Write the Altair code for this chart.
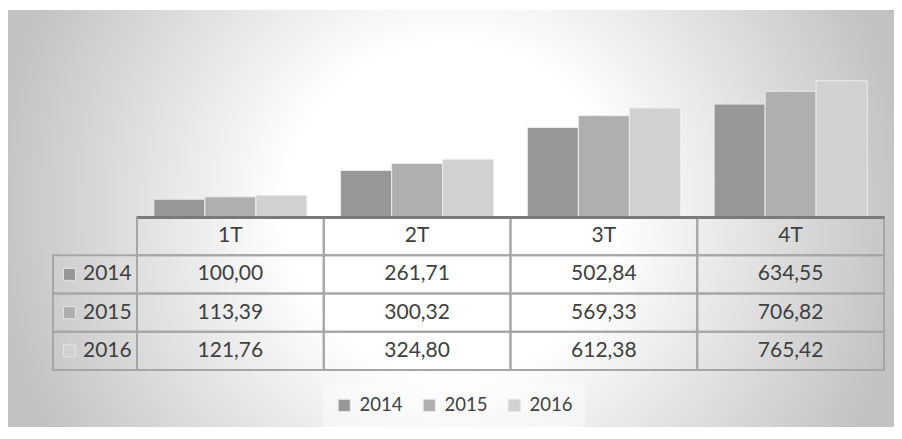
import altair as alt
import pandas as pd

quarters = ["1T", "2T", "3T", "4T"]
years = ["2014", "2015", "2016"]
v2014 = [100.00, 261.71, 502.84, 634.55]
v2015 = [113.39, 300.32, 569.33, 706.82]
v2016 = [121.76, 324.80, 612.38, 765.42]
colors = ["#979797", "#afafaf", "#d1d1d1"]
row_order = ["hdr"] + years

series = {"2014": v2014, "2015": v2015, "2016": v2016}
rows = []
for y in years:
    for q, v in zip(quarters, series[y]):
        rows.append({"quarter": q, "year": y, "row": y, "value": v,
                     "label": f"{v:.2f}".replace(".", ",")})
df = pd.DataFrame(rows)
hdr_df = pd.DataFrame({"quarter": quarters, "row": ["hdr"] * 4, "label": quarters})
cells_df = pd.concat([df[["quarter", "row"]], hdr_df[["quarter", "row"]]], ignore_index=True)
side_df = pd.DataFrame({"hc": ["h"] * 3, "row": years, "year": years})
bg_df = pd.DataFrame({"a": [0]})

FONT = "Lato"
TXT = "#404040"
GRID = "#a6a6a6"

qscale = alt.Scale(domain=quarters, range=[84, 831], paddingInner=0, paddingOuter=0)
hscale = alt.Scale(domain=["h"], range=[0, 84], paddingInner=0, paddingOuter=0)
sq_scale = alt.Scale(domain=["h"], range=[10, 23], paddingInner=0, paddingOuter=0)
st_scale = alt.Scale(domain=["h"], range=[20, 40], paddingInner=0, paddingOuter=0)
rscale = alt.Scale(domain=row_order, range=[0, 153], paddingInner=0, paddingOuter=0)
cscale = alt.Scale(domain=years, range=colors)

grad = alt.RadialGradient(
    gradient="radial", x1=0.5, y1=0.489, r1=0.187, x2=0.5, y2=0.489, r2=0.52,
    stops=[alt.GradientStop(offset=0, color="#ffffff"),
           alt.GradientStop(offset=1, color="#c2c2c2")],
)

bg = alt.Chart(bg_df).mark_rect(fill=grad).encode(
    x=alt.value(-45), x2=alt.value(841), y=alt.value(-207), y2=alt.value(210)
)

bars = alt.Chart(df).mark_bar(stroke="#ececec", strokeWidth=1).encode(
    x=alt.X("quarter:N", scale=qscale, axis=None),
    xOffset=alt.XOffset("year:N", scale=alt.Scale(domain=years, paddingInner=0, paddingOuter=0.33)),
    y=alt.Y("value:Q", scale=alt.Scale(domain=[0, 800], range=[0, -142.4], nice=False, zero=True), axis=None),
    color=alt.Color("year:N", scale=cscale, legend=alt.Legend(
        orient="none", legendX=270, legendY=167, direction="horizontal", title=None,
        symbolType="square", symbolSize=144, symbolStrokeWidth=1, symbolStrokeColor="#e3e3e3",
        labelFont=FONT, labelFontSize=18.5, labelColor=TXT, labelOffset=6,
        columnPadding=17, padding=12, fillColor="rgba(255,255,255,0.4)")),
)

cells = alt.Chart(cells_df).mark_rect(fill="transparent", stroke=GRID, strokeWidth=2).encode(
    x=alt.X("quarter:N", scale=qscale, axis=alt.Axis(
        orient="top", domain=True, domainColor="#7a7a7a", domainWidth=3,
        labels=False, ticks=False, grid=False, title=None)),
    y=alt.Y("row:N", scale=rscale, axis=None),
)

side_cells = alt.Chart(side_df).mark_rect(fill="transparent", stroke=GRID, strokeWidth=2).encode(
    x=alt.X("hc:N", scale=hscale, axis=None),
    y=alt.Y("row:N", scale=rscale, axis=None),
)

side_sq = alt.Chart(side_df).mark_point(shape="square", filled=True, size=144, opacity=1,
                                        stroke="#e3e3e3", strokeWidth=1).encode(
    x=alt.X("hc:N", scale=sq_scale, axis=None),
    y=alt.Y("row:N", scale=rscale, axis=None),
    fill=alt.Fill("year:N", scale=cscale, legend=None),
)

side_txt = alt.Chart(side_df).mark_text(font=FONT, fontSize=21, color=TXT, align="left",
                                        baseline="middle").encode(
    x=alt.X("hc:N", scale=st_scale, axis=None),
    y=alt.Y("row:N", scale=rscale, axis=None),
    text="year:N",
)

hdr_txt = alt.Chart(hdr_df).mark_text(font=FONT, fontSize=21, color=TXT, baseline="middle").encode(
    x=alt.X("quarter:N", scale=qscale, axis=None),
    y=alt.Y("row:N", scale=rscale, axis=None),
    text="label:N",
)

val_txt = alt.Chart(df).mark_text(font=FONT, fontSize=21, color=TXT, baseline="middle").encode(
    x=alt.X("quarter:N", scale=qscale, axis=None),
    y=alt.Y("row:N", scale=rscale, axis=None),
    text="label:N",
)

chart = alt.layer(bg, bars, cells, side_cells, side_sq, side_txt, hdr_txt, val_txt).resolve_scale(
    x="independent", y="independent"
).properties(
    width=831, height=153,
    padding={"top": 2, "left": 0, "right": 0, "bottom": 0},
).configure_view(stroke=None)

chart.save("out.html", embed_options={"renderer": "svg", "actions": False})
